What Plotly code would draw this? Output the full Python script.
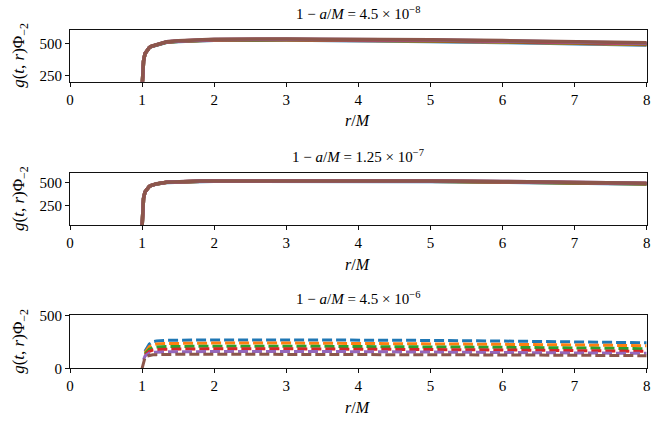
import plotly.graph_objects as go

# radial grid r/M
r = [1.0, 1.01, 1.02, 1.04, 1.07, 1.1, 1.13, 1.2, 1.34, 1.5, 1.8, 2, 3, 4, 5, 6, 7, 8]

# panel 1: 1 - a/M = 4.5e-8  (six nearly overlapping curves)
g1_base = [150, 300, 360, 420, 450, 468, 478, 492, 513, 520, 530, 532, 535, 533, 528, 522, 514, 505]
g1_end_offsets = [-18, -13, -10, -7, -3, 0]   # small spread at large r (blue ... brown)

# panel 2: 1 - a/M = 1.25e-7
g2_base = [20, 250, 330, 400, 440, 462, 474, 490, 508, 514, 520, 522, 525, 525, 522, 516, 508, 497]
g2_end_offsets = [-10, -7, -5, -3, -1, 0]

# panel 3: 1 - a/M = 4.5e-6  (dashed curves, distinct levels)
r3 = [1.0, 1.02, 1.04, 1.07, 1.1, 1.15, 1.2, 1.34, 1.5, 2, 3, 4, 5, 6, 7, 8]
g3 = {
    'blue':   [None, None, 160, 200, 228, 250, 258, 264, 266, 268, 268, 267, 263, 257, 250, 241],
    'orange': [None, None, 145, 180, 205, 222, 229, 234, 236, 238, 238, 236, 232, 226, 220, 213],
    'green':  [None, None, 135, 162, 180, 195, 201, 205, 207, 209, 209, 207, 203, 198, 192, 185],
    'red':    [None, None, 125, 145, 160, 172, 177, 180, 182, 184, 184, 182, 178, 173, 167, 160],
    'purple': [None, 80, 115, 130, 142, 150, 153, 156, 157, 159, 159, 157, 154, 150, 146, 141],
    'brown':  [0, 60, 100, 115, 122, 127, 129, 131, 132, 133, 133, 131, 129, 126, 123, 119],
}

colors = ['#1f77b4', '#ff7f0e', '#2ca02c', '#d62728', '#9467bd', '#8c564b']
titles = ['1 − <i>a</i>/<i>M</i> = 4.5 × 10<sup>−8</sup>',
          '1 − <i>a</i>/<i>M</i> = 1.25 × 10<sup>−7</sup>',
          '1 − <i>a</i>/<i>M</i> = 4.5 × 10<sup>−6</sup>']
ytitle = '<i>g</i>(<i>t</i>, <i>r</i>)Φ<sub>−2</sub>'
xtitle = '<i>r</i>/<i>M</i>'

W, H = 672, 424
FONT = 'Liberation Serif'

def with_offset(base, off):
    # spread grows towards large r
    n = len(base)
    return [b + off * (i / (n - 1)) ** 2 for i, b in enumerate(base)]

fig = go.Figure()

for c, off in zip(colors, g1_end_offsets):
    fig.add_trace(go.Scatter(x=r, y=with_offset(g1_base, off), mode='lines',
                             line=dict(color=c, width=3.5), xaxis='x', yaxis='y', showlegend=False))
for c, off in zip(colors, g2_end_offsets):
    fig.add_trace(go.Scatter(x=r, y=with_offset(g2_base, off), mode='lines',
                             line=dict(color=c, width=3.5), xaxis='x2', yaxis='y2', showlegend=False))
for c, (name, vals) in zip(colors, g3.items()):
    fig.add_trace(go.Scatter(x=r3, y=vals, mode='lines', connectgaps=False,
                             line=dict(color=c, width=3, dash='10px,4px'), xaxis='x3', yaxis='y3', showlegend=False))

# panel boxes in pixels: (top, bottom)
boxes = [(30, 81.7), (172.7, 225.3), (315.3, 368.3)]
x0, x1 = 70, 646.7
yranges = [[200, 605], [35, 612], [0, 500]]
yticks = [[250, 500], [250, 500], [0, 500]]

axis_common = dict(showline=True, linecolor='#111', linewidth=1, mirror=True, automargin=False,
                   ticks='outside', ticklen=4, tickcolor='#111', showgrid=False, zeroline=False,
                   tickfont=dict(family=FONT, size=15, color='black'))

layout = dict(width=W, height=H, margin=dict(l=0, r=0, t=0, b=0),
              plot_bgcolor='white', paper_bgcolor='white', annotations=[])

for i, (top, bot) in enumerate(boxes):
    sx = '' if i == 0 else str(i + 1)
    layout['xaxis' + sx] = dict(axis_common, domain=[x0 / W, x1 / W], range=[0, 8],
                                tickvals=list(range(9)), anchor='y' + sx)
    layout['yaxis' + sx] = dict(axis_common, domain=[1 - bot / H, 1 - top / H],
                                range=yranges[i], tickvals=yticks[i], anchor='x' + sx)
    # title
    layout['annotations'].append(dict(text=titles[i], xref='paper', yref='paper',
                                      x=(x0 + x1) / 2 / W, y=1 - (top - 6) / H, yanchor='bottom',
                                      showarrow=False, font=dict(family=FONT, size=15, color='black')))
    # x label
    layout['annotations'].append(dict(text=xtitle, xref='paper', yref='paper',
                                      x=(x0 + x1) / 2 / W, y=1 - (bot + 39) / H, yanchor='middle',
                                      showarrow=False, font=dict(family=FONT, size=16, color='black')))
    # y label
    layout['annotations'].append(dict(text=ytitle, xref='paper', yref='paper', textangle=-90,
                                      x=20 / W, y=1 - (top + bot) / 2 / H, xanchor='center', yanchor='middle',
                                      showarrow=False, font=dict(family=FONT, size=17, color='black')))

fig.update_layout(**layout)
fig.write_html("out.html", config={'displayModeBar': False},
               post_script="document.body.style.margin='0';")
